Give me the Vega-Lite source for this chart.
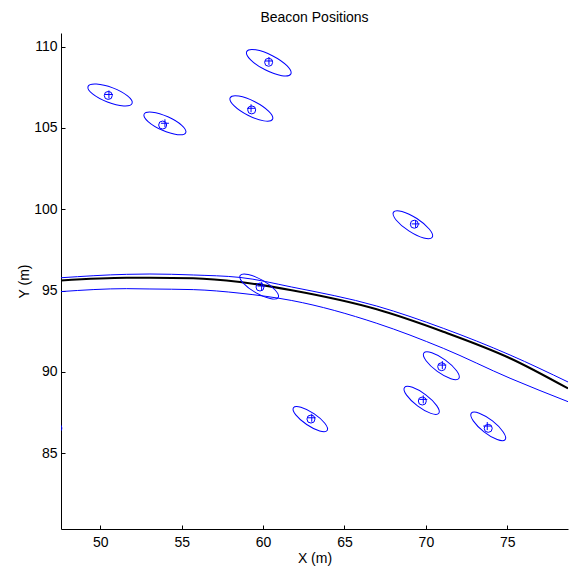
{
  "$schema": "https://vega.github.io/schema/vega-lite/v6.json",
  "width": 507,
  "height": 496,
  "autosize": {"type": "none"},
  "padding": {"left": 61, "top": 33, "right": 5, "bottom": 40},
  "background": "white",
  "title": {"text": "Beacon Positions", "fontSize": 14, "font": "Liberation Sans", "fontWeight": "normal", "color": "black", "baseline": "alphabetic", "offset": -3.2, "frame": "group", "anchor": "middle"},
  "config": {
    "view": {"stroke": null},
    "axis": {
      "grid": false,
      "domainColor": "black",
      "domainWidth": 1,
      "tickColor": "black",
      "tickWidth": 1,
      "tickSize": -4,
      "labelColor": "black",
      "labelFont": "Liberation Sans",
      "labelFontSize": 14,
      "titleFont": "Liberation Sans",
      "titleFontSize": 14,
      "titleFontWeight": "normal",
      "titleColor": "black"
    }
  },
  "datasets": {
    "beacons": [
      {"id": 1, "est_x": 50.49, "est_y": 107.00, "true_x": 50.53, "true_y": 107.06, "ell_x": 50.60, "ell_y": 107.03, "semi_major": 1.45, "tilt": 21},
      {"id": 2, "est_x": 53.83, "est_y": 105.18, "true_x": 53.97, "true_y": 105.29, "ell_x": 53.97, "ell_y": 105.28, "semi_major": 1.40, "tilt": 24},
      {"id": 3, "est_x": 60.34, "est_y": 109.04, "true_x": 60.36, "true_y": 109.12, "ell_x": 60.35, "ell_y": 109.01, "semi_major": 1.52, "tilt": 27},
      {"id": 4, "est_x": 59.30, "est_y": 106.11, "true_x": 59.26, "true_y": 106.21, "ell_x": 59.28, "ell_y": 106.20, "semi_major": 1.46, "tilt": 27},
      {"id": 5, "est_x": 69.29, "est_y": 99.08, "true_x": 69.37, "true_y": 99.10, "ell_x": 69.20, "ell_y": 99.05, "semi_major": 1.42, "tilt": 33},
      {"id": 6, "est_x": 70.97, "est_y": 90.32, "true_x": 71.01, "true_y": 90.42, "ell_x": 70.95, "ell_y": 90.38, "semi_major": 1.33, "tilt": 36},
      {"id": 7, "est_x": 69.78, "est_y": 88.21, "true_x": 69.84, "true_y": 88.31, "ell_x": 69.74, "ell_y": 88.25, "semi_major": 1.32, "tilt": 37},
      {"id": 8, "est_x": 73.83, "est_y": 86.53, "true_x": 73.77, "true_y": 86.67, "ell_x": 73.83, "ell_y": 86.65, "semi_major": 1.32, "tilt": 38},
      {"id": 9, "est_x": 62.94, "est_y": 87.10, "true_x": 62.99, "true_y": 87.18, "ell_x": 62.90, "ell_y": 87.10, "semi_major": 1.25, "tilt": 34},
      {"id": 10, "est_x": 59.81, "est_y": 95.22, "true_x": 59.91, "true_y": 95.28, "ell_x": 59.76, "ell_y": 95.25, "semi_major": 1.35, "tilt": 30},
      {"id": 11, "est_x": 46.45, "est_y": 87.25, "true_x": 46.45, "true_y": 87.25, "ell_x": 46.50, "ell_y": 87.20, "semi_major": 1.35, "tilt": 35}
    ],
    "paths": [
      {"series": "upper", "order": 1, "x": 47.59, "y": 95.79},
      {"series": "upper", "order": 2, "x": 51.62, "y": 96.00},
      {"series": "upper", "order": 3, "x": 53.05, "y": 96.02},
      {"series": "upper", "order": 4, "x": 55.71, "y": 95.96},
      {"series": "upper", "order": 5, "x": 58.58, "y": 95.81},
      {"series": "upper", "order": 6, "x": 61.76, "y": 95.22},
      {"series": "upper", "order": 7, "x": 66.98, "y": 94.05},
      {"series": "upper", "order": 8, "x": 71.07, "y": 92.68},
      {"series": "upper", "order": 9, "x": 75.17, "y": 91.04},
      {"series": "upper", "order": 10, "x": 78.73, "y": 89.38},
      {"series": "lower", "order": 1, "x": 47.59, "y": 94.94},
      {"series": "lower", "order": 2, "x": 51.62, "y": 95.12},
      {"series": "lower", "order": 3, "x": 53.05, "y": 95.10},
      {"series": "lower", "order": 4, "x": 55.71, "y": 95.06},
      {"series": "lower", "order": 5, "x": 58.58, "y": 94.84},
      {"series": "lower", "order": 6, "x": 61.76, "y": 94.39},
      {"series": "lower", "order": 7, "x": 66.98, "y": 92.99},
      {"series": "lower", "order": 8, "x": 71.07, "y": 91.45},
      {"series": "lower", "order": 9, "x": 75.17, "y": 89.61},
      {"series": "lower", "order": 10, "x": 78.73, "y": 88.17},
      {"series": "true", "order": 1, "x": 47.59, "y": 95.62},
      {"series": "true", "order": 2, "x": 51.62, "y": 95.79},
      {"series": "true", "order": 3, "x": 53.05, "y": 95.79},
      {"series": "true", "order": 4, "x": 55.71, "y": 95.76},
      {"series": "true", "order": 5, "x": 58.58, "y": 95.53},
      {"series": "true", "order": 6, "x": 61.76, "y": 95.02},
      {"series": "true", "order": 7, "x": 66.98, "y": 93.85},
      {"series": "true", "order": 8, "x": 71.07, "y": 92.47},
      {"series": "true", "order": 9, "x": 75.17, "y": 90.84},
      {"series": "true", "order": 10, "x": 78.73, "y": 88.98}
    ]
  },
  "layer": [
    {
      "data": {"name": "paths"},
      "transform": [{"filter": "datum.series !== 'true'"}],
      "mark": {"type": "line", "color": "#0000ff", "strokeWidth": 1, "interpolate": "monotone", "clip": true},
      "encoding": {
        "x": {"field": "x", "type": "quantitative", "scale": {"domain": [47.586, 78.73], "nice": false, "zero": false}, "axis": {"values": [50, 55, 60, 65, 70, 75], "title": "X (m)", "labelPadding": 10.9, "titlePadding": 2}},
        "y": {"field": "y", "type": "quantitative", "scale": {"domain": [80.34, 110.84], "nice": false, "zero": false}, "axis": {"values": [85, 90, 95, 100, 105, 110], "title": "Y (m)", "labelPadding": 8, "titlePadding": 2}},
        "detail": {"field": "series"},
        "order": {"field": "order", "type": "quantitative"}
      }
    },
    {
      "data": {"name": "paths"},
      "transform": [{"filter": "datum.series === 'true'"}],
      "mark": {"type": "line", "color": "black", "strokeWidth": 2, "interpolate": "monotone", "clip": true},
      "encoding": {
        "x": {"field": "x", "type": "quantitative"},
        "y": {"field": "y", "type": "quantitative"},
        "order": {"field": "order", "type": "quantitative"}
      }
    },
    {
      "data": {"name": "beacons"},
      "mark": {"type": "point", "shape": "M-1,0A1,0.32,0,1,1,1,0A1,0.32,0,1,1,-1,0Z", "filled": false, "stroke": "#0000ff", "strokeWidth": 1, "opacity": 1, "clip": true},
      "encoding": {
        "x": {"field": "ell_x", "type": "quantitative"},
        "y": {"field": "ell_y", "type": "quantitative"},
        "size": {"field": "semi_major", "type": "quantitative", "scale": {"type": "pow", "exponent": 2, "domain": [0, 1], "range": [0, 1060]}, "legend": null},
        "angle": {"field": "tilt", "type": "quantitative", "scale": null}
      }
    },
    {
      "data": {"name": "beacons"},
      "mark": {"type": "point", "shape": "circle", "size": 64, "filled": false, "stroke": "#0000ff", "strokeWidth": 1, "opacity": 1, "clip": true},
      "encoding": {
        "x": {"field": "est_x", "type": "quantitative"},
        "y": {"field": "est_y", "type": "quantitative"}
      }
    },
    {
      "data": {"name": "beacons"},
      "mark": {"type": "point", "shape": "M-1,0H1M0,-1V1", "size": 64, "filled": false, "stroke": "#0000ff", "strokeWidth": 1, "opacity": 1, "clip": true},
      "encoding": {
        "x": {"field": "true_x", "type": "quantitative"},
        "y": {"field": "true_y", "type": "quantitative"}
      }
    }
  ]
}
